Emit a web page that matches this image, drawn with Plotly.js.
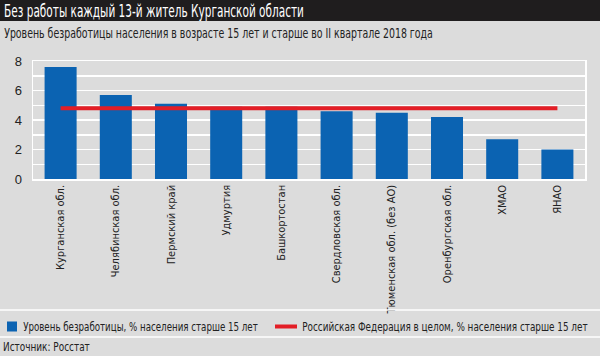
<!DOCTYPE html>
<html>
<head>
<meta charset="utf-8">
<script src="https://cdn.plot.ly/plotly-3.0.1.min.js"></script>
<style>
html,body{margin:0;padding:0;background:#dcdcdc;}
#chart{width:600px;height:356px;}
</style>
</head>
<body>
<div id="chart"></div>
<script>
const regions = ["Курганская обл.", "Челябинская обл.", "Пермский край", "Удмуртия", "Башкортостан",
  "Свердловская обл.", "Тюменская обл. (без АО)", "Оренбургская обл.", "ХМАО", "ЯНАО"];
const unemployment = [7.6, 5.7, 5.1, 4.9, 4.9, 4.6, 4.5, 4.2, 2.7, 2.0];
const russiaAvg = 4.8;
const russiaLine = regions.map(() => russiaAvg);
const seriesNames = ["Уровень безработицы, % населения старше 15 лет", "Российская Федерация в целом, % населения старше 15 лет"];
const chartTitle = "Без работы каждый 13-й житель Курганской области";
const chartSubtitle = "Уровень безработицы населения в возрасте 15 лет и старше во II квартале 2018 года";
const sourceText = "Источник: Росстат";

const W = 600, H = 356;
const L = 33, R = 15, T = 61, B = 177;
const pw = W - L - R, ph = H - T - B;
const px = x => (x - L) / pw;
const py = y => (H - B - y) / ph;

const FONT = '"DejaVu Sans Condensed", "Liberation Sans Narrow", "Arial Narrow", sans-serif';
const BG = '#dcdcdc';
const BLUE = '#0b63b2', RED = '#e31e26';

const traces = [
  {type: 'bar', x: regions, y: unemployment, name: seriesNames[0],
   marker: {color: BLUE}, showlegend: false},
  {type: 'scatter', mode: 'lines', x: regions, y: russiaLine, name: seriesNames[1],
   line: {color: RED, width: 4}, showlegend: false}
];

// text elements: [text, left px, right px, center y px, size, color]
const texts = [
  [chartTitle, 4, 304, 11, 17.5, '#ffffff'],
  [chartSubtitle, 4, 433, 32.5, 13.5, '#222222'],
  [seriesNames[0], 23, 258, 326.5, 13, '#222222'],
  [seriesNames[1], 302, 588, 326.5, 13, '#222222'],
  [sourceText, 3, 90, 346, 13, '#222222']
];

const layout = {
  width: W, height: H,
  margin: {l: L, r: R, t: T, b: B},
  paper_bgcolor: BG, plot_bgcolor: BG,
  font: {family: FONT, color: '#222', size: 12},
  bargap: 0.42,
  showlegend: false,
  xaxis: {type: 'category', range: [-0.5, 9.5], tickangle: -90, showgrid: false,
          tickfont: {family: FONT, size: 11, color: '#222'}, ticks: '',
          showline: true, linecolor: '#ffffff', linewidth: 1.5, mirror: true, zeroline: false},
  yaxis: {range: [0, 8], dtick: 2, showgrid: true, gridcolor: '#ffffff', gridwidth: 1.5,
          minor: {dtick: 1, showgrid: true, gridcolor: '#ffffff', gridwidth: 1.5},
          tickfont: {family: '"Liberation Sans", Arial, sans-serif', size: 13, color: '#222'}, ticks: '', ticklabelstandoff: 7,
          showline: true, linecolor: '#ffffff', linewidth: 1.5, mirror: true, zeroline: false},
  shapes: [
    {type: 'rect', xref: 'paper', yref: 'paper', x0: px(0), x1: px(600), y0: py(21), y1: py(0),
     fillcolor: '#1f1d1e', line: {width: 0}, layer: 'below'},
    {type: 'line', xref: 'paper', yref: 'paper', x0: px(0), x1: px(600), y0: py(310), y1: py(310),
     line: {color: '#ffffff', width: 1.5}},
    {type: 'line', xref: 'paper', yref: 'paper', x0: px(0), x1: px(600), y0: py(337), y1: py(337),
     line: {color: '#ffffff', width: 1.5}},
    // legend keys
    {type: 'rect', xref: 'paper', yref: 'paper', x0: px(7), x1: px(17), y0: py(331.5), y1: py(321.5),
     fillcolor: BLUE, line: {width: 0}},
    {type: 'line', xref: 'paper', yref: 'paper', x0: px(275), x1: px(297), y0: py(326.5), y1: py(326.5),
     line: {color: RED, width: 4}}
  ],
  annotations: texts.map(t => ({
    text: t[0], xref: 'paper', yref: 'paper', x: px(t[1]), y: py(t[3]),
    xanchor: 'left', yanchor: 'middle', showarrow: false, borderpad: 0,
    font: {family: FONT, size: t[4], color: t[5]}
  }))
};

Plotly.newPlot('chart', traces, layout, {displayModeBar: false, staticPlot: true}).then(gd => {
  // condense annotation texts horizontally to fit the narrow typeface of the reference
  const els = gd.querySelectorAll('text.annotation-text');
  els.forEach(el => {
    const spec = texts.find(t => t[0] === el.textContent);
    if (!spec) return;
    const bb = el.getBBox();
    const rect = el.getBoundingClientRect();
    const offset = rect.left - bb.x;
    const target = spec[2] - spec[1];
    const sx = target / bb.width;
    const x0 = spec[1] - offset;
    el.setAttribute('transform', `translate(${x0 - bb.x * sx},0) scale(${sx},1)`);
  });
});
</script>
</body>
</html>
